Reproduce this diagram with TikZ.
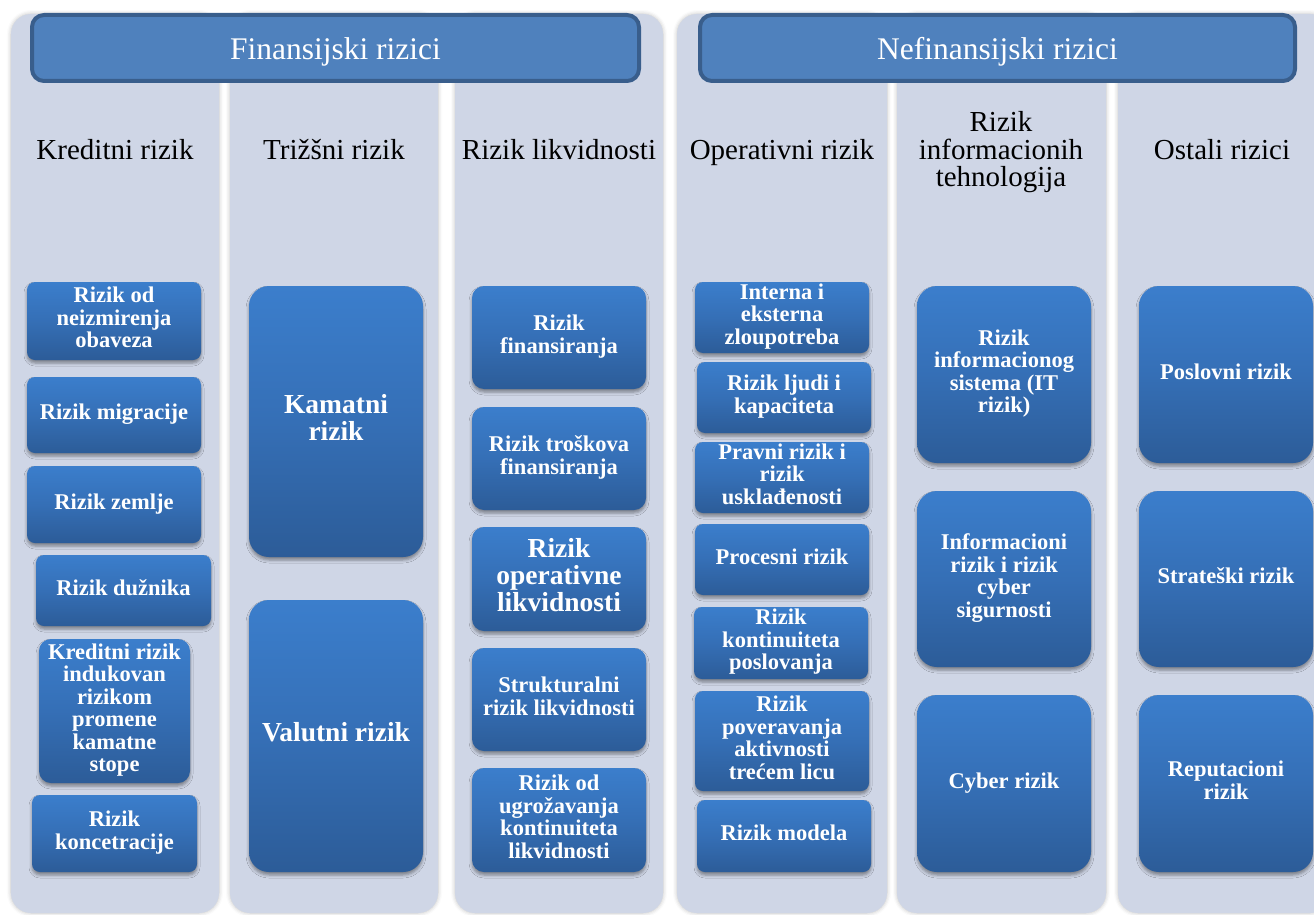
\documentclass[tikz,border=0pt]{standalone}
\usepackage{fontspec}
\setmainfont{Liberation Serif}
\usetikzlibrary{shadows.blur}
\definecolor{colbg}{RGB}{207,214,230}
\definecolor{hdrfill}{RGB}{79,129,189}
\definecolor{hdrline}{RGB}{57,94,140}
\definecolor{boxtop}{RGB}{59,126,204}
\definecolor{boxmid}{RGB}{53,111,182}
\definecolor{boxbot}{RGB}{44,92,152}
\tikzset{
  colpanel/.style={fill=colbg, rounded corners=20pt,
    blur shadow={shadow xshift=0pt, shadow yshift=0pt, shadow blur radius=4pt, shadow opacity=25}},
  header/.style={draw=hdrline, fill=hdrfill, line width=4pt, rounded corners=12pt, inner sep=0pt},
  hdrtext/.style={anchor=base, text=white, inner sep=0pt, font=\fontsize{31.5}{31.5}\selectfont},
  coltitle/.style={align=center, inner sep=0pt, font=\fontsize{29}{27.5}\selectfont,
    execute at begin node=\strut, execute at end node=\strut},
  rbox/.style={rounded corners=#1, shade, top color=boxtop, bottom color=boxbot, middle color=boxmid,
    inner sep=0pt, text=white, align=center, font=\bfseries\fontsize{22.5}{22.5}\selectfont,
    execute at begin node=\strut, execute at end node=\strut,
    blur shadow={shadow xshift=0pt, shadow yshift=-3pt, shadow blur radius=3pt, shadow opacity=40}},
  rbox/.default=8pt,
  bigtext/.style={font=\bfseries\fontsize{27.5}{27}\selectfont},
}
\begin{document}
\begin{tikzpicture}[x=1pt, y=-1pt]
\useasboundingbox (0,0) rectangle (1314,915);
\begin{scope}
\clip (0,0) rectangle (1314,915);
\path[colpanel] (11,14) rectangle (219,913);
\path[colpanel] (230,14) rectangle (438,913);
\path[colpanel] (455,14) rectangle (663,913);
\path[colpanel] (677,14) rectangle (887,913);
\path[colpanel] (897,14) rectangle (1106,913);
\path[colpanel] (1118,14) rectangle (1330,913);
\end{scope}
% headers
\node[header, minimum width=607pt, minimum height=66pt] (fin) at (335.5,48) {};
\node[hdrtext] (fint) at (335.5,60) {Finansijski rizici};
\node[header, minimum width=595pt, minimum height=66pt] (nefin) at (997.5,48) {};
\node[hdrtext] (nefint) at (997.5,60) {Nefinansijski rizici};
% column titles
\node[coltitle] (t1) at (115,153.5) {Kreditni rizik};
\node[coltitle] (t2) at (334,153.5) {Trižšni rizik};
\node[coltitle] (t3) at (559,153.5) {Rizik likvidnosti};
\node[coltitle] (t4) at (782,153.5) {Operativni rizik};
\node[coltitle] (t5) at (1001,153.5) {Rizik\\informacionih\\tehnologija};
\node[coltitle] (t6) at (1222,153.5) {Ostali rizici};
% column 1
\node[rbox, minimum width=174pt, minimum height=78pt] (n11) at (114,321) {Rizik od\\neizmirenja\\obaveza};
\node[rbox, minimum width=174pt, minimum height=76pt] (n12) at (114,415) {Rizik migracije};
\node[rbox, minimum width=174pt, minimum height=77pt] (n13) at (114,504.5) {Rizik zemlje};
\node[rbox, minimum width=175pt, minimum height=71pt] (n14) at (123.5,590.5) {Rizik dužnika};
\node[rbox=12pt, minimum width=151pt, minimum height=144pt] (n15) at (114.5,711) {Kreditni rizik\\indukovan\\rizikom\\promene\\kamatne\\stope};
\node[rbox, minimum width=165pt, minimum height=77pt] (n16) at (114.5,833.5) {Rizik\\koncetracije};
% column 2
\node[rbox=20pt, bigtext, minimum width=174pt, minimum height=271pt] (n21) at (336,421.5) {Kamatni\\rizik};
\node[rbox=20pt, bigtext, minimum width=174pt, minimum height=272pt] (n22) at (336,736) {Valutni rizik};
% column 3
\node[rbox=12pt, minimum width=174pt, minimum height=103pt] (n31) at (559,337.5) {Rizik\\finansiranja};
\node[rbox=12pt, minimum width=174pt, minimum height=103pt] (n32) at (559,458.5) {Rizik troškova\\finansiranja};
\node[rbox=12pt, bigtext, minimum width=174pt, minimum height=104pt] (n33) at (559,579) {Rizik\\operativne\\likvidnosti};
\node[rbox=12pt, minimum width=174pt, minimum height=103pt] (n34) at (559,699.5) {Strukturalni\\rizik likvidnosti};
\node[rbox=12pt, minimum width=174pt, minimum height=104pt] (n35) at (559,820) {Rizik od\\ugrožavanja\\kontinuiteta\\likvidnosti};
% column 4
\node[rbox, minimum width=174pt, minimum height=71pt] (n41) at (782,317.5) {Interna i\\eksterna\\zloupotreba};
\node[rbox, minimum width=174pt, minimum height=71pt] (n42) at (784,397.5) {Rizik ljudi i\\kapaciteta};
\node[rbox, minimum width=174pt, minimum height=71pt] (n43) at (782,477.5) {Pravni rizik i\\rizik\\usklađenosti};
\node[rbox, minimum width=174pt, minimum height=71pt] (n44) at (782,559.5) {Procesni rizik};
\node[rbox, minimum width=174pt, minimum height=72pt] (n45) at (781,643) {Rizik\\kontinuiteta\\poslovanja};
\node[rbox, minimum width=174pt, minimum height=100pt] (n46) at (782,741) {Rizik\\poveravanja\\aktivnosti\\trećem licu};
\node[rbox, minimum width=174pt, minimum height=72pt] (n47) at (784,836) {Rizik modela};
% column 5
\node[rbox=20pt, minimum width=174pt, minimum height=177pt] (n51) at (1004,374.5) {Rizik\\informacionog\\sistema (IT\\rizik)};
\node[rbox=20pt, minimum width=174pt, minimum height=176pt] (n52) at (1004,579) {Informacioni\\rizik i rizik\\cyber\\sigurnosti};
\node[rbox=20pt, minimum width=174pt, minimum height=177pt] (n53) at (1004,783.5) {Cyber rizik};
% column 6
\node[rbox=20pt, minimum width=174pt, minimum height=177pt] (n61) at (1226,374.5) {Poslovni rizik};
\node[rbox=20pt, minimum width=174pt, minimum height=176pt] (n62) at (1226,579) {Strateški rizik};
\node[rbox=20pt, minimum width=174pt, minimum height=177pt] (n63) at (1226,783.5) {Reputacioni\\rizik};
\end{tikzpicture}
\end{document}
